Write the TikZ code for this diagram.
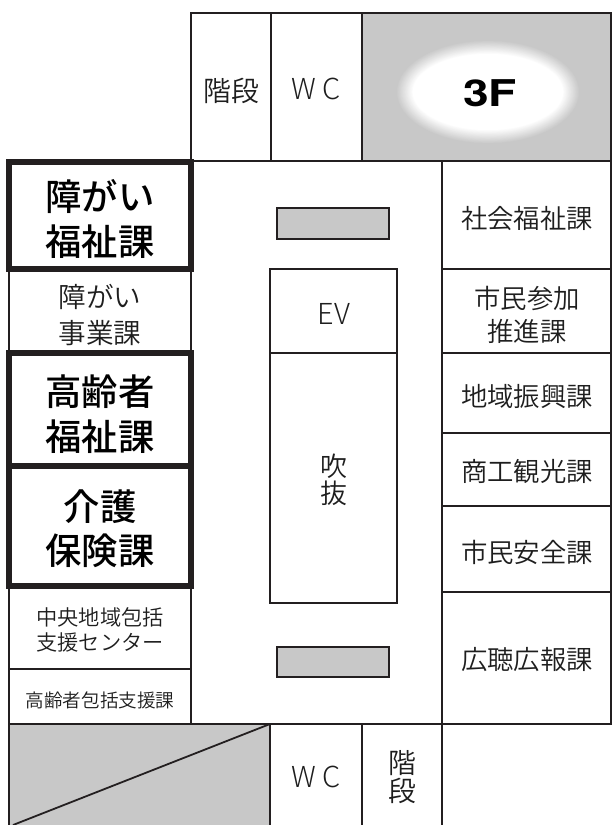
\documentclass[tikz,border=0pt]{standalone}
\usepackage{fontspec}
\setmainfont{Noto Sans CJK JP DemiLight}
\newfontfamily\lightfont{Noto Sans CJK JP Light}
\newfontfamily\medfont{Noto Sans CJK JP Medium}
\newfontfamily\latinfont{TeX Gyre Heros}
\definecolor{wallc}{HTML}{231F20}
\definecolor{fillc}{HTML}{C8C8C8}
\definecolor{textc}{HTML}{1E1E1E}
\newcommand{\fz}[2]{\fontsize{#1}{#2}\selectfont}
\tikzset{
  wall/.style={draw=wallc,line width=1.8pt},
  thick wall/.style={draw=wallc,line width=5.2pt},
  grayroom/.style={draw=wallc,line width=1.8pt,fill=fillc},
  label/.style={align=center,inner sep=0pt,text=textc},
  big/.style={label,text=black,font=\medfont\fz{36.5}{44.5}},
  mid/.style={label,font=\fz{26.5}{33}},
  latin/.style={label,font=\lightfont\fz{29}{30}},
}
\begin{document}
\begin{tikzpicture}[x=1bp,y=-1bp]
\useasboundingbox (0,0) rectangle (612,825);
% gray fills
\fill[fillc] (362,13) rectangle (611,161);
\foreach \i in {0,...,24}{
  \pgfmathsetmacro{\rx}{92-0.7*\i}
  \pgfmathsetmacro{\ry}{52-0.58*\i}
  \pgfmathsetmacro{\mixv}{\i*100/24}
  \fill[white!\mixv!fillc] (488,92) ellipse [x radius=\rx,y radius=\ry];
}
\fill[fillc] (9,724) rectangle (270,825);
% outline and walls
\draw[wall] (191,161) -- (191,13) -- (611,13) -- (611,724) -- (442,724);
\draw[wall] (271,13) -- (271,161);
\draw[wall] (362,13) -- (362,161);
\draw[wall] (191,161) -- (611,161);
\draw[wall] (442,161) -- (442,825);
\draw[wall] (442,269) -- (611,269);
\draw[wall] (442,353) -- (611,353);
\draw[wall] (442,433) -- (611,433);
\draw[wall] (442,506) -- (611,506);
\draw[wall] (442,592) -- (611,592);
\draw[wall] (9,724) -- (442,724);
\draw[wall] (270,724) -- (270,825);
\draw[wall] (362,724) -- (362,825);
\draw[wall] (9,269) -- (9,825);
\draw[wall] (191,269) -- (191,724);
\draw[wall] (9,669) -- (191,669);
\draw[wall] (270,724) -- (13,825);
% centre block
\draw[wall] (270,269) rectangle (397,603);
\draw[wall] (270,353) -- (397,353);
\draw[grayroom] (277,208) rectangle (389,239);
\draw[grayroom] (277,647) rectangle (389,677);
% highlighted rooms
\draw[thick wall] (9,162) rectangle (191,269);
\draw[thick wall] (9,353) rectangle (191,466);
\draw[thick wall] (9,466) rectangle (191,586);
% labels
\node[label,font=\fz{28}{28}] (stairtop) at (231,91) {階段};
\node[latin] (wctop) at (316,89) {W\hspace{6pt}C};
\node[inner sep=0pt,text=black,transform shape,xscale=1.25,font=\latinfont\bfseries\fz{37}{40}] (floor) at (490,93) {3F};
\node[big] (r1) at (100,219) {障がい\\福祉課};
\node[label,font=\fz{27.7}{36}] (r2) at (100,315) {障がい\\事業課};
\node[big] (r3) at (100,414) {高齢者\\福祉課};
\node[big] (r4) at (100,529) {介護\\保険課};
\node[label,font=\fz{21.3}{25}] (r5) at (100,630) {中央地域包括\\支援センター};
\node[label,font=\fz{18.7}{20}] (r6) at (100,700) {高齢者包括支援課};
\node[latin] (ev) at (334,314) {EV};
\node[label,font=\fz{27}{27}] (void) at (334,480) {吹\\抜};
\node[mid] (e1) at (527,219) {社会福祉課};
\node[mid] (e2) at (527,315) {市民参加\\推進課};
\node[mid] (e3) at (527,396) {地域振興課};
\node[mid] (e4) at (527,471) {商工観光課};
\node[mid] (e5) at (527,552) {市民安全課};
\node[mid] (e6) at (527,660) {広聴広報課};
\node[latin] (wcbot) at (316,777) {W\hspace{6pt}C};
\node[label,font=\fz{28}{28}] (stairbot) at (402,777) {階\\段};
\end{tikzpicture}
\end{document}
